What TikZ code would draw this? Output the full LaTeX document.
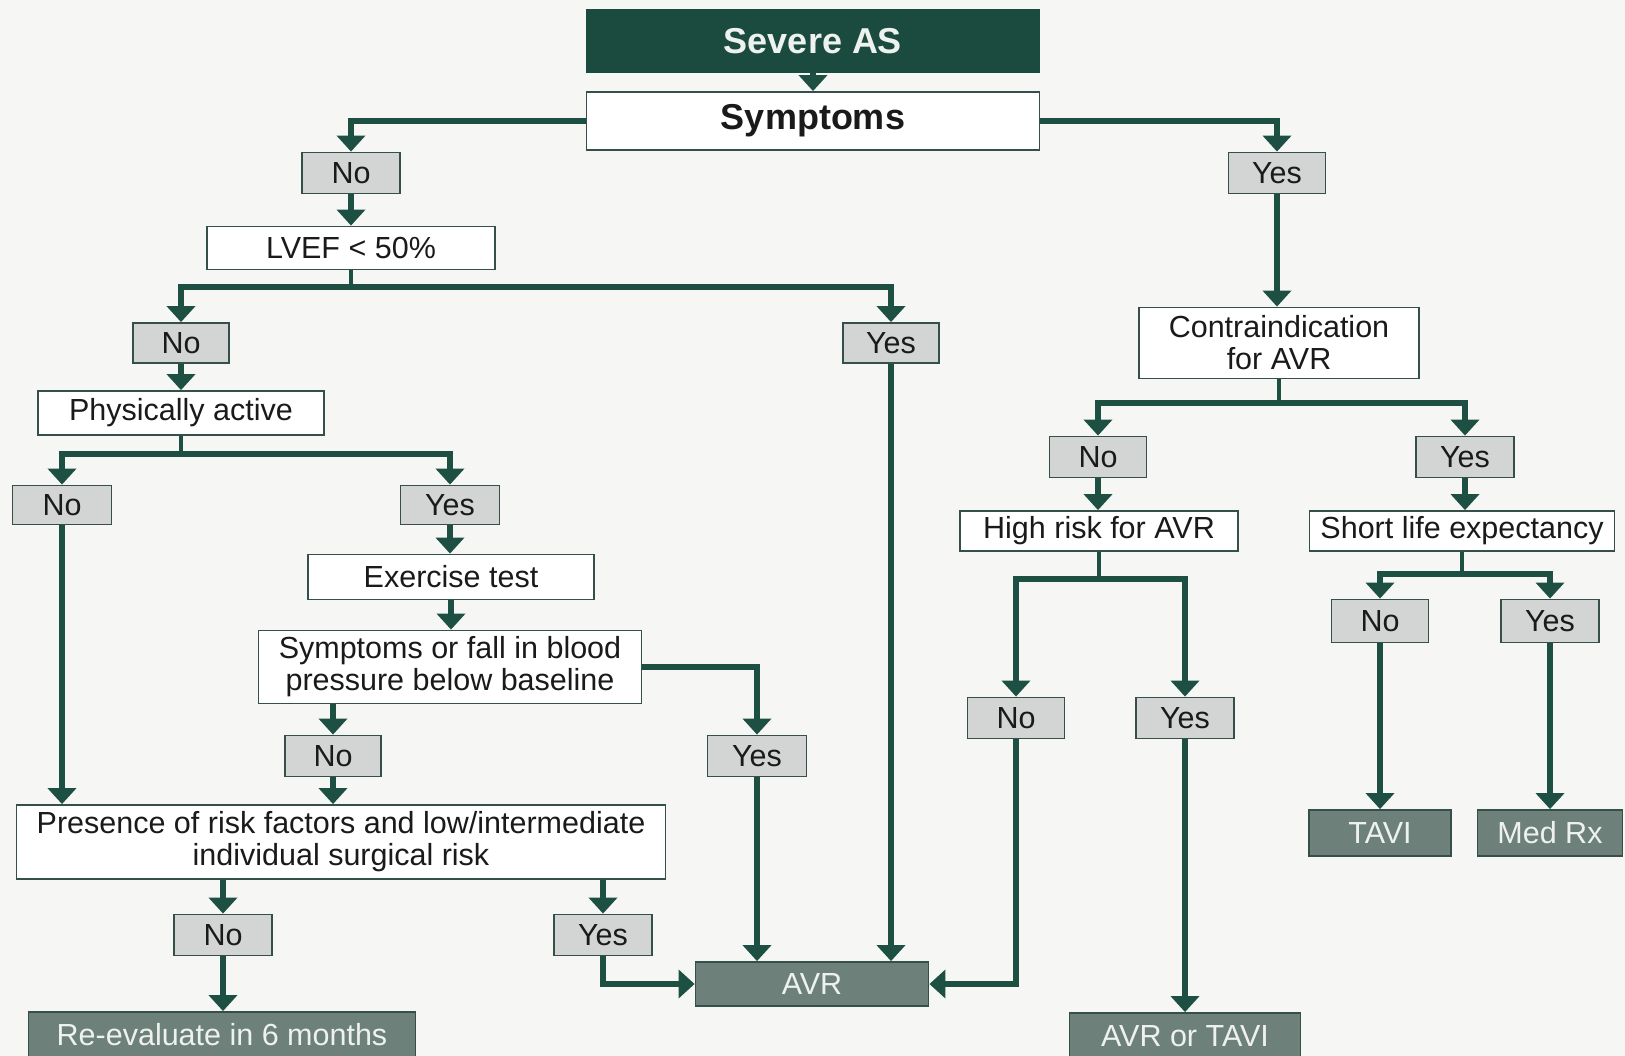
\documentclass[tikz,border=0pt]{standalone}
\usepackage{fontspec}
\setmainfont{Liberation Sans}
\usetikzlibrary{arrows.meta,calc}
\definecolor{dkg}{HTML}{1B4B3E}
\definecolor{arrc}{HTML}{1D4F42}
\definecolor{bord}{HTML}{35504A}
\definecolor{lgray}{HTML}{D2D5D4}
\definecolor{outc}{HTML}{6E807A}
\definecolor{bgc}{HTML}{F6F6F5}
\definecolor{txt}{HTML}{1A1A1A}
\definecolor{ltxt}{HTML}{EEF2EE}
\begin{document}
\begin{tikzpicture}[x=1pt,y=-1pt,
  box/.style={draw=bord, line width=1.8pt, fill=white, text=txt, inner sep=0pt,
    font=\fontsize{30.5}{32}\selectfont, align=center},
  ans/.style={box, fill=lgray},
  outbox/.style={box, fill=outc, text=ltxt},
  topbox/.style={box, fill=dkg, draw=dkg, text=ltxt, font=\bfseries\fontsize{36}{40}\selectfont},
  arr/.style={draw=arrc, line width=6pt, -{Triangle[width=28pt,length=16pt]}},
  stem/.style={draw=arrc, line width=3.5pt}
]
\clip (0,0) rectangle (1625,1056);
\fill[bgc] (0,0) rectangle (1625,1056);

% top
\node[topbox, minimum width=453pt, minimum height=62pt] (sev) at (813,41) {Severe AS};
\node[box, minimum width=453pt, minimum height=58pt, font=\bfseries\fontsize{36}{40}\selectfont] (symp) at (813,121) {Symptoms};

% left branch
\node[ans, minimum width=98pt, minimum height=41pt] (no1) at (351,173) {No};
\node[ans, minimum width=97pt, minimum height=41pt] (yes1) at (1277,173) {Yes};
\node[box, minimum width=288pt, minimum height=43pt] (lvef) at (351,248) {LVEF < 50\%};
\node[ans, minimum width=96pt, minimum height=40pt] (no2) at (181,343) {No};
\node[ans, minimum width=96pt, minimum height=40pt] (yes2) at (891,343) {Yes};
\node[box, minimum width=286pt, minimum height=44pt] (phys) at (181,413) {Physically active};
\node[ans, minimum width=99pt, minimum height=39pt] (no3) at (62,505) {No};
\node[ans, minimum width=99pt, minimum height=39pt] (yes3) at (450,505) {Yes};
\node[box, minimum width=286pt, minimum height=45pt] (ex) at (451,577) {Exercise test};
\node[box, minimum width=383pt, minimum height=73pt] (sof) at (450,667) {Symptoms or fall in blood\\pressure below baseline};
\node[ans, minimum width=96pt, minimum height=41pt] (no4) at (333,756) {No};
\node[ans, minimum width=99pt, minimum height=41pt] (yes4) at (757,756) {Yes};
\node[box, minimum width=649pt, minimum height=74pt] (pres) at (341,842) {Presence of risk factors and low/intermediate\\individual surgical risk};
\node[ans, minimum width=98pt, minimum height=41pt] (no5) at (223,935) {No};
\node[ans, minimum width=98pt, minimum height=41pt] (yes5) at (603,935) {Yes};
\node[outbox, minimum width=387pt, minimum height=46pt] (reev) at (222,1035) {Re-evaluate in 6 months};
\node[outbox, minimum width=233pt, minimum height=44pt] (avr) at (812,984) {AVR};

% right branch
\node[box, minimum width=280pt, minimum height=71pt] (contra) at (1279,343) {Contraindication\\for AVR};
\node[ans, minimum width=97pt, minimum height=41pt] (no6) at (1098,457) {No};
\node[ans, minimum width=98pt, minimum height=41pt] (yes6) at (1465,457) {Yes};
\node[box, minimum width=278pt, minimum height=40pt] (high) at (1099,531) {High risk for AVR};
\node[box, minimum width=305pt, minimum height=40pt] (short) at (1462,531) {Short life expectancy};
\node[ans, minimum width=97pt, minimum height=41pt] (no7) at (1016,718) {No};
\node[ans, minimum width=98pt, minimum height=41pt] (yes7) at (1185,718) {Yes};
\node[outbox, minimum width=231pt, minimum height=46pt] (avrt) at (1185,1036) {AVR or TAVI};
\node[ans, minimum width=97pt, minimum height=43pt] (no8) at (1380,621) {No};
\node[ans, minimum width=98pt, minimum height=43pt] (yes8) at (1550,621) {Yes};
\node[outbox, minimum width=142pt, minimum height=46pt] (tavi) at (1380,833) {TAVI};
\node[outbox, minimum width=145pt, minimum height=46pt] (medrx) at (1550,833) {Med Rx};

% connectors
\draw[arr] (sev.south) -- (symp.north);
\draw[arr] (symp.west) -| (no1.north);
\draw[arr] (symp.east) -| (yes1.north);
\draw[arr] (no1.south) -- (lvef.north -| no1.south);

\coordinate (jl) at ($(lvef.south)+(0,17)$);
\draw[stem] (lvef.south) -- (jl);
\draw[arr] (jl) -| (no2.north);
\draw[arr] (jl) -| (yes2.north);
\draw[arr] (yes2.south) -- (yes2.south |- avr.north);

\draw[arr] (no2.south) -- (no2.south |- phys.north);
\coordinate (jp) at ($(phys.south)+(0,18)$);
\draw[stem] (phys.south) -- (jp);
\draw[arr] (jp) -| (no3.north);
\draw[arr] (jp) -| (yes3.north);
\draw[arr] (no3.south) -- (no3.south |- pres.north);

\draw[arr] (yes3.south) -- (yes3.south |- ex.north);
\draw[arr] (ex.south) -- (ex.south |- sof.north);
\draw[arr] (sof.east) -| (yes4.north);
\draw[arr] (yes4.south) -- (yes4.south |- avr.north);
\draw[arr] (sof.south -| no4.north) -- (no4.north);
\draw[arr] (no4.south) -- (no4.south |- pres.north);
\draw[arr] (pres.south -| no5.north) -- (no5.north);
\draw[arr] (pres.south -| yes5.north) -- (yes5.north);
\draw[arr] (no5.south) -- (no5.south |- reev.north);
\draw[arr] (yes5.south) |- (avr.west);

\draw[arr] (yes1.south) -- (yes1.south |- contra.north);
\coordinate (jc) at ($(contra.south)+(0,24)$);
\draw[stem] (contra.south) -- (jc);
\draw[arr] (jc) -| (no6.north);
\draw[arr] (jc) -| (yes6.north);
\draw[arr] (no6.south) -- (no6.south |- high.north);
\draw[arr] (yes6.south) -- (yes6.south |- short.north);

\coordinate (jh) at ($(high.south)+(0,27)$);
\draw[stem] (high.south) -- (jh);
\draw[arr] (jh) -| (no7.north);
\draw[arr] (jh) -| (yes7.north);
\draw[arr] (no7.south) |- (avr.east);
\draw[arr] (yes7.south) -- (yes7.south |- avrt.north);

\coordinate (js) at ($(short.south)+(0,22)$);
\draw[stem] (short.south) -- (js);
\draw[arr] (js) -| (no8.north);
\draw[arr] (js) -| (yes8.north);
\draw[arr] (no8.south) -- (no8.south |- tavi.north);
\draw[arr] (yes8.south) -- (yes8.south |- medrx.north);
\end{tikzpicture}
\end{document}
